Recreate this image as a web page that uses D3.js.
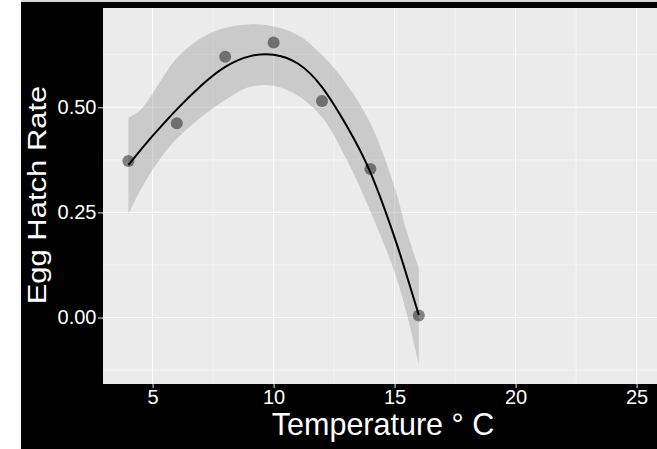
<!DOCTYPE html>
<html><head><meta charset="utf-8">
<script src="https://cdn.jsdelivr.net/npm/d3@7"></script>
<style>html,body{margin:0;padding:0;background:#fff;} svg{display:block;}</style>
</head><body><svg id="chart" width="657" height="449"></svg>
<script>
// Observed data
const tempC = [4, 6, 8, 10, 12, 14, 16];
const hatchRate = [0.372, 0.462, 0.620, 0.654, 0.515, 0.353, 0.005];
// Smoothed fit
const fitX    = [4, 4.5, 5, 5.5, 6, 7, 8, 9, 10, 11, 12, 13, 14, 15, 15.5, 16];
const fitY    = [0.363, 0.398, 0.432, 0.464, 0.495, 0.551, 0.596, 0.621, 0.625, 0.604, 0.548, 0.458, 0.345, 0.190, 0.100, 0.006];
const fitLow  = [0.246, 0.303, 0.352, 0.392, 0.425, 0.476, 0.517, 0.548, 0.551, 0.528, 0.476, 0.378, 0.253, 0.108, 0.010, -0.112];
const fitHigh = [0.474, 0.494, 0.533, 0.577, 0.617, 0.664, 0.689, 0.697, 0.692, 0.672, 0.624, 0.556, 0.462, 0.310, 0.205, 0.117];
// Axes
const xTicks = [5, 10, 15, 20, 25];
const xMinor = [7.5, 12.5, 17.5, 22.5];
const yTicks = [0, 0.25, 0.5];
const yTickLabels = ["0.00", "0.25", "0.50"];
const yMinor = [-0.125, 0.125, 0.375, 0.625];
const xTitle = "Temperature \u00b0 C";
const yTitle = "Egg Hatch Rate";

const svg = d3.select("#chart");
const W = 657, H = 449;
const panel = {left: 103, top: 8, right: 662, bottom: 384};
const font = "'Liberation Sans', Arial, Helvetica, sans-serif";

const x = d3.scaleLinear().domain([2.95, 26.05]).range([panel.left, panel.right]);
const y = d3.scaleLinear().domain([-0.158, 0.736]).range([panel.bottom, panel.top]);

svg.append("rect").attr("width", W).attr("height", H).attr("fill", "#fff");
svg.append("rect").attr("x", 21).attr("y", 0).attr("width", W - 21).attr("height", 2).attr("fill", "#d6d6d6");
svg.append("rect").attr("x", 21).attr("y", 2).attr("width", W - 21).attr("height", H - 2).attr("fill", "#000");

svg.append("defs").append("clipPath").attr("id", "pc").append("rect")
  .attr("x", panel.left).attr("y", panel.top)
  .attr("width", panel.right - panel.left).attr("height", panel.bottom - panel.top);

const g = svg.append("g").attr("clip-path", "url(#pc)");
g.append("rect").attr("x", panel.left).attr("y", panel.top)
  .attr("width", panel.right - panel.left).attr("height", panel.bottom - panel.top)
  .attr("fill", "#ebebeb");

// minor grid
g.selectAll(".xmin").data(xMinor).join("line")
  .attr("x1", d => x(d)).attr("x2", d => x(d)).attr("y1", panel.top).attr("y2", panel.bottom)
  .attr("stroke", "#fff").attr("stroke-width", 0.55);
g.selectAll(".ymin").data(yMinor).join("line")
  .attr("y1", d => y(d)).attr("y2", d => y(d)).attr("x1", panel.left).attr("x2", panel.right)
  .attr("stroke", "#fff").attr("stroke-width", 0.55);
// major grid
g.selectAll(".xmaj").data(xTicks).join("line")
  .attr("x1", d => x(d)).attr("x2", d => x(d)).attr("y1", panel.top).attr("y2", panel.bottom)
  .attr("stroke", "#fff").attr("stroke-width", 1.1);
g.selectAll(".ymaj").data(yTicks).join("line")
  .attr("y1", d => y(d)).attr("y2", d => y(d)).attr("x1", panel.left).attr("x2", panel.right)
  .attr("stroke", "#fff").attr("stroke-width", 1.1);

// ribbon
const fit = fitX.map((d, i) => ({x: d, y: fitY[i], lo: fitLow[i], hi: fitHigh[i]}));
g.append("path").datum(fit)
  .attr("d", d3.area().x(d => x(d.x)).y0(d => y(d.lo)).y1(d => y(d.hi)).curve(d3.curveCatmullRom.alpha(0.5)))
  .attr("fill", "#999999").attr("fill-opacity", 0.4);

// points
const pts = tempC.map((d, i) => ({x: d, y: hatchRate[i]}));
g.selectAll(".pt").data(pts).join("circle")
  .attr("cx", d => x(d.x)).attr("cy", d => y(d.y)).attr("r", 6)
  .attr("fill", "#000").attr("fill-opacity", 0.45);

// fit line
g.append("path").datum(fit)
  .attr("d", d3.line().x(d => x(d.x)).y(d => y(d.y)).curve(d3.curveNatural))
  .attr("fill", "none").attr("stroke", "#000").attr("stroke-width", 2);

// axes
const xAxis = svg.append("g").attr("transform", `translate(0,${panel.bottom})`)
  .call(d3.axisBottom(x).tickValues(xTicks).tickFormat(d3.format("d")).tickSize(4).tickPadding(2));
const yAxis = svg.append("g").attr("transform", `translate(${panel.left},0)`)
  .call(d3.axisLeft(y).tickValues(yTicks).tickFormat((d, i) => yTickLabels[i]).tickSize(5).tickPadding(1.5));
[xAxis, yAxis].forEach(a => {
  a.select(".domain").remove();
  a.selectAll(".tick line").attr("stroke", "#d9d9d9").attr("stroke-width", 1.1);
  a.selectAll(".tick text").attr("fill", "#fff").style("font-family", font).style("font-size", "20px");
});

// titles
svg.append("text").attr("x", 383).attr("y", 435).attr("text-anchor", "middle")
  .attr("fill", "#fff").style("font-family", font).style("font-size", "30.5px").text(xTitle);
svg.append("text").attr("transform", "translate(45.5,195) rotate(-90) scale(1,0.85)").attr("text-anchor", "middle")
  .attr("fill", "#fff").style("font-family", font).style("font-size", "31px").text(yTitle);
</script>
</body></html>
